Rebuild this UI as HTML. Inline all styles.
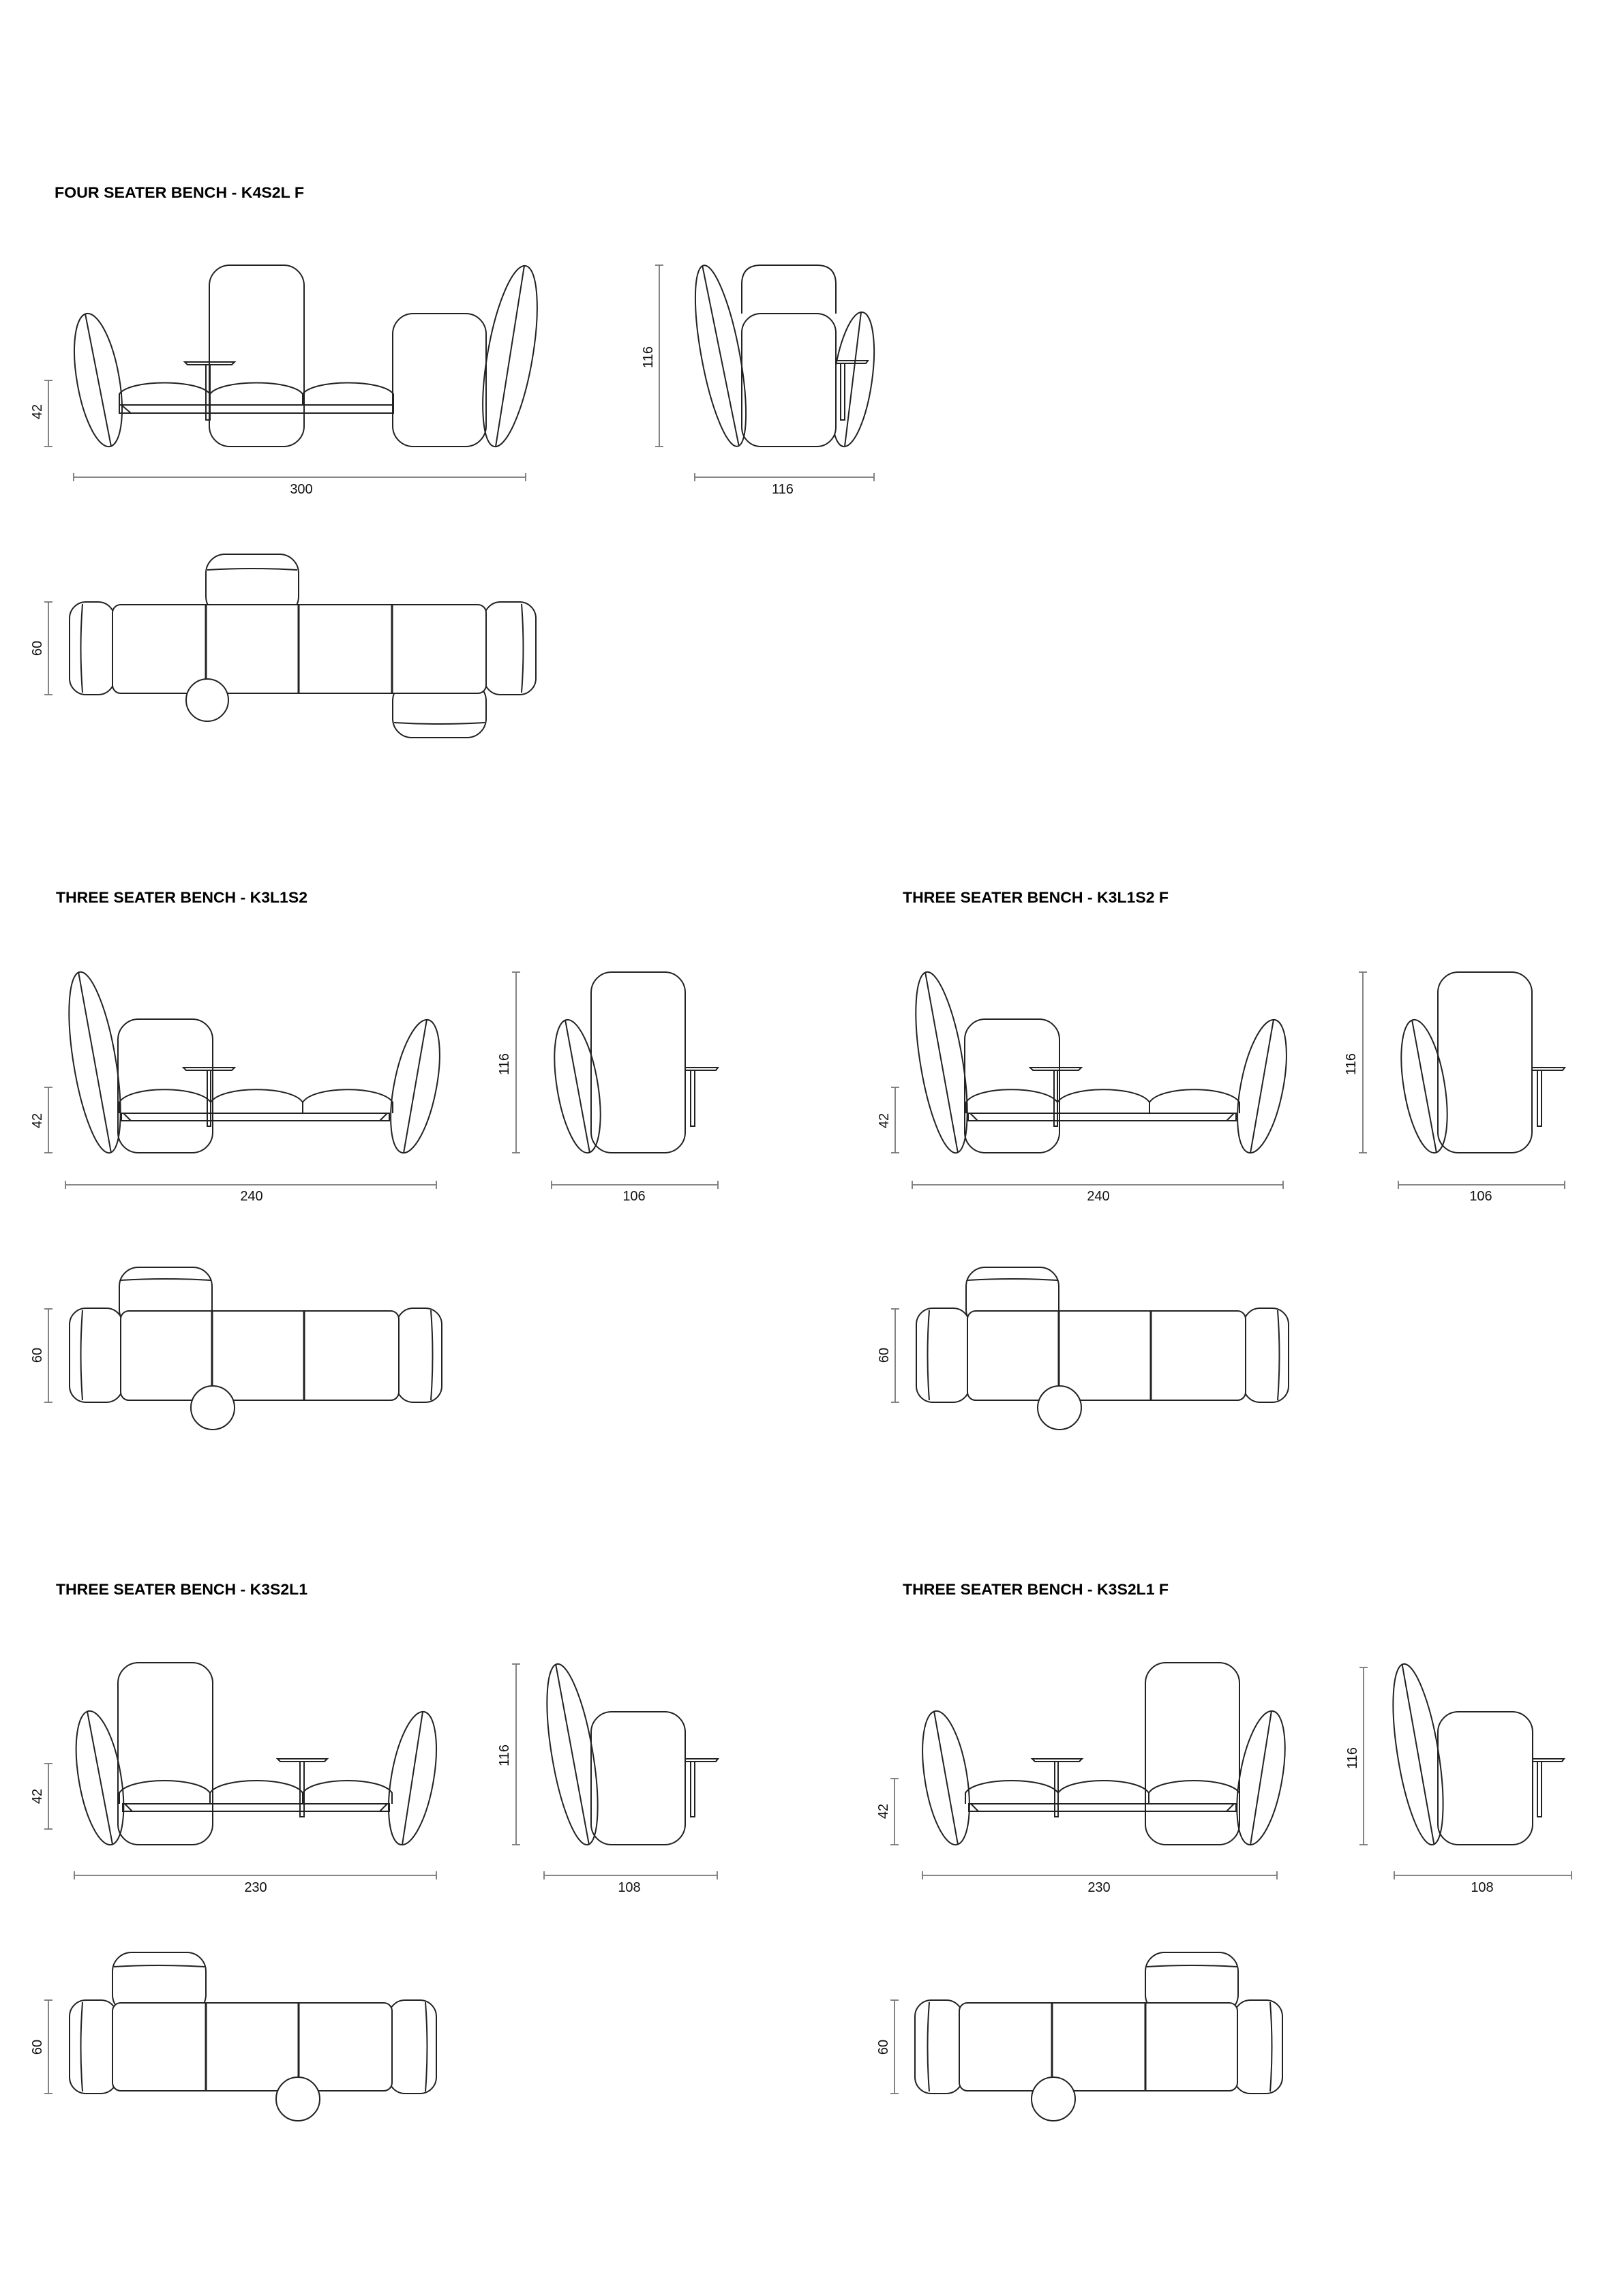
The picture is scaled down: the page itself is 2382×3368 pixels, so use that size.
<!DOCTYPE html>
<html><head><meta charset="utf-8"><style>
html,body{margin:0;padding:0;background:#fff}
svg{display:block}
.t{font-family:"Liberation Sans",sans-serif;font-weight:bold;font-size:22px;fill:#000}
.d{font-family:"Liberation Sans",sans-serif;font-size:20px;fill:#111}
.s{fill:none;stroke:#222;stroke-width:2}
.m{fill:none;stroke:#777;stroke-width:1.8}
</style></head><body>
<svg width="2382" height="3368" viewBox="0 0 2382 3368" xmlns="http://www.w3.org/2000/svg">
<rect width="2382" height="3368" fill="#fff"/>

<!-- ============ SECTION 1 ============ -->
<text class="t" x="80" y="290" textLength="366" lengthAdjust="spacingAndGlyphs">FOUR SEATER BENCH - K4S2L F</text>
<g class="s">
 <rect x="307" y="389" width="139" height="266" rx="30"/>
 <path d="M175 594 L175 578 C190 556 292 556 308 578 L308 594"/>
 <path d="M308 594 L308 578 C324 556 428 556 444 578 L444 594"/>
 <path d="M444 594 L444 578 C460 556 561 556 577 578 L577 594"/>
 <rect x="175" y="594" width="402" height="12"/>
 <path d="M178 594 L192 606"/>
 <path d="M271 531 L344 531 L340 535 L275 535 Z"/>
 <rect x="302" y="535" width="6" height="81"/>
 <rect x="576" y="460" width="137" height="195" rx="30"/>
 <g transform="translate(144,557.5) rotate(-9.9)"><ellipse rx="31" ry="99"/><line x1="-2" y1="-99" x2="2" y2="99"/></g>
 <g transform="translate(748,522.5) rotate(9.85)"><ellipse rx="33" ry="134.5"/><line x1="-2" y1="-134.5" x2="2" y2="134.5"/></g>
 <!-- side -->
 <path d="M1088 460 L1088 417 Q1088 389 1116 389 L1198 389 Q1226 389 1226 417 L1226 460"/>
 <g transform="translate(1251,556.5) rotate(8.1)"><ellipse rx="28" ry="99.5"/><line x1="-2" y1="-99.5" x2="2" y2="99.5"/></g>
 <path d="M1226 529 L1273 529 L1270 533 L1226 533"/>
 <rect x="1233" y="533" width="6" height="83"/>
 <rect x="1088" y="460" width="138" height="195" rx="28" fill="#fff"/>
 <g transform="translate(1057,522) rotate(-10.6)"><ellipse rx="28" ry="135"/><line x1="-2" y1="-135" x2="2" y2="135"/></g>
 <!-- plan -->
 <rect x="302" y="813" width="136" height="90" rx="28"/>
 <path d="M304 836 Q370 832 436 836"/>
 <rect x="576" y="1000" width="137" height="82" rx="28"/>
 <path d="M578 1060 Q644 1064 711 1060"/>
 <rect x="102" y="883" width="66" height="136" rx="24"/>
 <path d="M121 886 Q116 951 121 1016"/>
 <rect x="710" y="883" width="76" height="136" rx="24"/>
 <path d="M765 886 Q770 951 765 1016"/>
 <rect x="165" y="887" width="548" height="130" rx="12" fill="#fff"/>
 <line x1="302" y1="887" x2="302" y2="1017" stroke-width="3"/>
 <line x1="438" y1="887" x2="438" y2="1017" stroke-width="3"/>
 <line x1="575" y1="887" x2="575" y2="1017" stroke-width="3"/>
 <circle cx="304" cy="1027" r="31" fill="#fff"/>
</g>
<g class="m">
 <line x1="71" y1="558" x2="71" y2="655"/><line x1="65" y1="558" x2="77" y2="558"/><line x1="65" y1="655" x2="77" y2="655"/>
 <line x1="108" y1="700" x2="771" y2="700"/><line x1="108" y1="694" x2="108" y2="706"/><line x1="771" y1="694" x2="771" y2="706"/>
 <line x1="967" y1="389" x2="967" y2="655"/><line x1="961" y1="389" x2="973" y2="389"/><line x1="961" y1="655" x2="973" y2="655"/>
 <line x1="1019" y1="700" x2="1282" y2="700"/><line x1="1019" y1="694" x2="1019" y2="706"/><line x1="1282" y1="694" x2="1282" y2="706"/>
 <line x1="71" y1="883" x2="71" y2="1019"/><line x1="65" y1="883" x2="77" y2="883"/><line x1="65" y1="1019" x2="77" y2="1019"/>
</g>
<text class="d" text-anchor="middle" x="442" y="724">300</text>
<text class="d" text-anchor="middle" x="1148" y="724">116</text>
<text class="d" text-anchor="middle" dominant-baseline="central" transform="translate(55,604) rotate(-90)">42</text>
<text class="d" text-anchor="middle" dominant-baseline="central" transform="translate(951,524) rotate(-90)">116</text>
<text class="d" text-anchor="middle" dominant-baseline="central" transform="translate(55,951) rotate(-90)">60</text>

<!-- ============ SECTION 2 (shared shapes) ============ -->
<g id="s2">
<g class="s">
 <rect x="173" y="1495" width="139" height="196" rx="30"/>
 <path d="M175 1633 L175 1617 C190 1592 292 1592 309 1617 L309 1633"/>
 <path d="M309 1633 L309 1617 C325 1592 428 1592 444 1617 L444 1633"/>
 <path d="M444 1633 L444 1617 C460 1592 560 1592 576 1617 L576 1633"/>
 <rect x="178" y="1633" width="393" height="11"/>
 <path d="M181 1633 L192 1644 M568 1633 L557 1644"/>
 <path d="M269 1566 L344 1566 L340 1570 L273 1570 Z"/>
 <rect x="304" y="1570" width="5" height="82"/>
 <g transform="translate(139,1558.5) rotate(-9.4)"><ellipse rx="31" ry="134.4"/><line x1="-2" y1="-134.4" x2="2" y2="134.4"/></g>
 <g transform="translate(609,1593.5) rotate(11)"><ellipse rx="31" ry="99.3"/><line x1="-2" y1="-99.3" x2="2" y2="99.3"/></g>
 <!-- side -->
 <rect x="867" y="1426" width="138" height="265" rx="30"/>
 <g transform="translate(847,1593.5) rotate(-9.3)"><ellipse rx="30" ry="98.8"/><line x1="-2" y1="-98.8" x2="2" y2="98.8"/></g>
 <path d="M1005 1566 L1053 1566 L1050 1570 L1005 1570"/>
 <rect x="1013" y="1570" width="6" height="82"/>
 <!-- plan -->
 <rect x="175" y="1859" width="136" height="90" rx="28"/>
 <path d="M177 1878 Q243 1874 309 1878"/>
 <rect x="102" y="1919" width="78" height="138" rx="24"/>
 <path d="M121 1922 Q116 1988 121 2054"/>
 <rect x="582" y="1919" width="66" height="138" rx="24"/>
 <path d="M632 1922 Q637 1988 632 2054"/>
 <rect x="177" y="1923" width="408" height="131" rx="12" fill="#fff"/>
 <line x1="311" y1="1923" x2="311" y2="2054" stroke-width="3"/>
 <line x1="446" y1="1923" x2="446" y2="2054" stroke-width="3"/>
 <circle cx="312" cy="2065" r="32" fill="#fff"/>
</g>
<g class="m">
 <line x1="71" y1="1595" x2="71" y2="1691"/><line x1="65" y1="1595" x2="77" y2="1595"/><line x1="65" y1="1691" x2="77" y2="1691"/>
 <line x1="96" y1="1738" x2="640" y2="1738"/><line x1="96" y1="1732" x2="96" y2="1744"/><line x1="640" y1="1732" x2="640" y2="1744"/>
 <line x1="757" y1="1426" x2="757" y2="1691"/><line x1="751" y1="1426" x2="763" y2="1426"/><line x1="751" y1="1691" x2="763" y2="1691"/>
 <line x1="809" y1="1738" x2="1053" y2="1738"/><line x1="809" y1="1732" x2="809" y2="1744"/><line x1="1053" y1="1732" x2="1053" y2="1744"/>
 <line x1="71" y1="1920" x2="71" y2="2057"/><line x1="65" y1="1920" x2="77" y2="1920"/><line x1="65" y1="2057" x2="77" y2="2057"/>
</g>
</g>
<use href="#s2" x="1242"/>

<text class="t" x="82" y="1324" textLength="369" lengthAdjust="spacingAndGlyphs">THREE SEATER BENCH - K3L1S2</text>
<text class="d" text-anchor="middle" x="369" y="1761">240</text>
<text class="d" text-anchor="middle" x="930" y="1761">106</text>
<text class="d" text-anchor="middle" dominant-baseline="central" transform="translate(55,1644) rotate(-90)">42</text>
<text class="d" text-anchor="middle" dominant-baseline="central" transform="translate(740,1561) rotate(-90)">116</text>
<text class="d" text-anchor="middle" dominant-baseline="central" transform="translate(55,1988) rotate(-90)" fill="#666">60</text>

<text class="t" x="1324" y="1324" textLength="390" lengthAdjust="spacingAndGlyphs">THREE SEATER BENCH - K3L1S2 F</text>
<text class="d" text-anchor="middle" x="1611" y="1761">240</text>
<text class="d" text-anchor="middle" x="2172" y="1761">106</text>
<text class="d" text-anchor="middle" dominant-baseline="central" transform="translate(1297,1644) rotate(-90)">42</text>
<text class="d" text-anchor="middle" dominant-baseline="central" transform="translate(1982,1561) rotate(-90)">116</text>
<text class="d" text-anchor="middle" dominant-baseline="central" transform="translate(1297,1988) rotate(-90)">60</text>

<!-- ============ SECTION 3 left ============ -->
<text class="t" x="82" y="2339" textLength="369" lengthAdjust="spacingAndGlyphs">THREE SEATER BENCH - K3S2L1</text>
<g class="s">
 <rect x="173" y="2439" width="139" height="267" rx="30"/>
 <path d="M175 2646 L175 2630 C190 2606 292 2606 308 2630 L308 2646"/>
 <path d="M308 2646 L308 2630 C324 2606 428 2606 444 2630 L444 2646"/>
 <path d="M444 2646 L444 2630 C460 2606 560 2606 575 2630 L575 2646"/>
 <rect x="180" y="2646" width="391" height="11"/>
 <path d="M183 2646 L194 2657 M568 2646 L557 2657"/>
 <path d="M407 2580 L480 2580 L476 2584 L411 2584 Z"/>
 <rect x="440" y="2584" width="6" height="81"/>
 <g transform="translate(146.5,2608) rotate(-9.6)"><ellipse rx="31" ry="99.4"/><line x1="-2" y1="-99.4" x2="2" y2="99.4"/></g>
 <g transform="translate(605,2608.5) rotate(9.9)"><ellipse rx="31" ry="99"/><line x1="-2" y1="-99" x2="2" y2="99"/></g>
 <rect x="867" y="2511" width="138" height="195" rx="30"/>
 <g transform="translate(839.5,2573.5) rotate(-9.6)"><ellipse rx="30" ry="134.4"/><line x1="-2" y1="-134.4" x2="2" y2="134.4"/></g>
 <path d="M1005 2580 L1053 2580 L1050 2584 L1005 2584"/>
 <rect x="1013" y="2584" width="6" height="81"/>
 <rect x="165" y="2864" width="137" height="90" rx="28"/>
 <path d="M167 2885 Q233 2881 300 2885"/>
 <rect x="102" y="2934" width="70" height="137" rx="24"/>
 <path d="M121 2937 Q116 3003 121 3068"/>
 <rect x="570" y="2934" width="70" height="137" rx="24"/>
 <path d="M624 2937 Q629 3003 624 3068"/>
 <rect x="165" y="2938" width="410" height="129" rx="12" fill="#fff"/>
 <line x1="302" y1="2938" x2="302" y2="3067" stroke-width="3"/>
 <line x1="438" y1="2938" x2="438" y2="3067" stroke-width="3"/>
 <circle cx="437" cy="3079" r="32" fill="#fff"/>
</g>
<g class="m">
 <line x1="71" y1="2587" x2="71" y2="2683"/><line x1="65" y1="2587" x2="77" y2="2587"/><line x1="65" y1="2683" x2="77" y2="2683"/>
 <line x1="109" y1="2751" x2="640" y2="2751"/><line x1="109" y1="2745" x2="109" y2="2757"/><line x1="640" y1="2745" x2="640" y2="2757"/>
 <line x1="757" y1="2441" x2="757" y2="2706"/><line x1="751" y1="2441" x2="763" y2="2441"/><line x1="751" y1="2706" x2="763" y2="2706"/>
 <line x1="798" y1="2751" x2="1052" y2="2751"/><line x1="798" y1="2745" x2="798" y2="2757"/><line x1="1052" y1="2745" x2="1052" y2="2757"/>
 <line x1="71" y1="2934" x2="71" y2="3071"/><line x1="65" y1="2934" x2="77" y2="2934"/><line x1="65" y1="3071" x2="77" y2="3071"/>
</g>
<text class="d" text-anchor="middle" x="375" y="2775">230</text>
<text class="d" text-anchor="middle" x="923" y="2775">108</text>
<text class="d" text-anchor="middle" dominant-baseline="central" transform="translate(55,2635) rotate(-90)">42</text>
<text class="d" text-anchor="middle" dominant-baseline="central" transform="translate(740,2575) rotate(-90)">116</text>
<text class="d" text-anchor="middle" dominant-baseline="central" transform="translate(55,3003) rotate(-90)">60</text>

<!-- ============ SECTION 3 right ============ -->
<text class="t" x="1324" y="2339" textLength="390" lengthAdjust="spacingAndGlyphs">THREE SEATER BENCH - K3S2L1 F</text>
<g class="s">
 <rect x="1680" y="2439" width="138" height="267" rx="30"/>
 <path d="M1416 2646 L1416 2630 C1431 2606 1536 2606 1552 2630 L1552 2646"/>
 <path d="M1552 2646 L1552 2630 C1568 2606 1669 2606 1685 2630 L1685 2646"/>
 <path d="M1685 2646 L1685 2630 C1700 2606 1802 2606 1818 2630 L1818 2646"/>
 <rect x="1421" y="2646" width="392" height="11"/>
 <path d="M1424 2646 L1435 2657 M1810 2646 L1799 2657"/>
 <path d="M1514 2580 L1587 2580 L1583 2584 L1518 2584 Z"/>
 <rect x="1547" y="2584" width="5" height="81"/>
 <g transform="translate(1387.5,2608) rotate(-9)"><ellipse rx="31" ry="99.2"/><line x1="-2" y1="-99.2" x2="2" y2="99.2"/></g>
 <g transform="translate(1849.5,2608) rotate(10.1)"><ellipse rx="31" ry="99.5"/><line x1="-2" y1="-99.5" x2="2" y2="99.5"/></g>
 <rect x="2109" y="2511" width="139" height="195" rx="30"/>
 <g transform="translate(2080,2573.5) rotate(-9.2)"><ellipse rx="30" ry="134.2"/><line x1="-2" y1="-134.2" x2="2" y2="134.2"/></g>
 <path d="M2248 2580 L2294 2580 L2291 2584 L2248 2584"/>
 <rect x="2255" y="2584" width="6" height="81"/>
 <rect x="1680" y="2864" width="136" height="90" rx="28"/>
 <path d="M1682 2885 Q1748 2881 1814 2885"/>
 <rect x="1342" y="2934" width="70" height="137" rx="24"/>
 <path d="M1363 2937 Q1358 3003 1363 3068"/>
 <rect x="1810" y="2934" width="71" height="137" rx="24"/>
 <path d="M1863 2937 Q1868 3003 1863 3068"/>
 <rect x="1407" y="2938" width="408" height="129" rx="12" fill="#fff"/>
 <line x1="1543" y1="2938" x2="1543" y2="3067" stroke-width="3"/>
 <line x1="1680" y1="2938" x2="1680" y2="3067" stroke-width="3"/>
 <circle cx="1545" cy="3079" r="32" fill="#fff"/>
</g>
<g class="m">
 <line x1="1312" y1="2609" x2="1312" y2="2706"/><line x1="1306" y1="2609" x2="1318" y2="2609"/><line x1="1306" y1="2706" x2="1318" y2="2706"/>
 <line x1="1353" y1="2751" x2="1873" y2="2751"/><line x1="1353" y1="2745" x2="1353" y2="2757"/><line x1="1873" y1="2745" x2="1873" y2="2757"/>
 <line x1="2000" y1="2446" x2="2000" y2="2706"/><line x1="1994" y1="2446" x2="2006" y2="2446"/><line x1="1994" y1="2706" x2="2006" y2="2706"/>
 <line x1="2045" y1="2751" x2="2305" y2="2751"/><line x1="2045" y1="2745" x2="2045" y2="2757"/><line x1="2305" y1="2745" x2="2305" y2="2757"/>
 <line x1="1312" y1="2934" x2="1312" y2="3071"/><line x1="1306" y1="2934" x2="1318" y2="2934"/><line x1="1306" y1="3071" x2="1318" y2="3071"/>
</g>
<text class="d" text-anchor="middle" x="1612" y="2775">230</text>
<text class="d" text-anchor="middle" x="2174" y="2775">108</text>
<text class="d" text-anchor="middle" dominant-baseline="central" transform="translate(1296,2657) rotate(-90)">42</text>
<text class="d" text-anchor="middle" dominant-baseline="central" transform="translate(1984,2579) rotate(-90)">116</text>
<text class="d" text-anchor="middle" dominant-baseline="central" transform="translate(1296,3003) rotate(-90)">60</text>
</svg>
</body></html>
